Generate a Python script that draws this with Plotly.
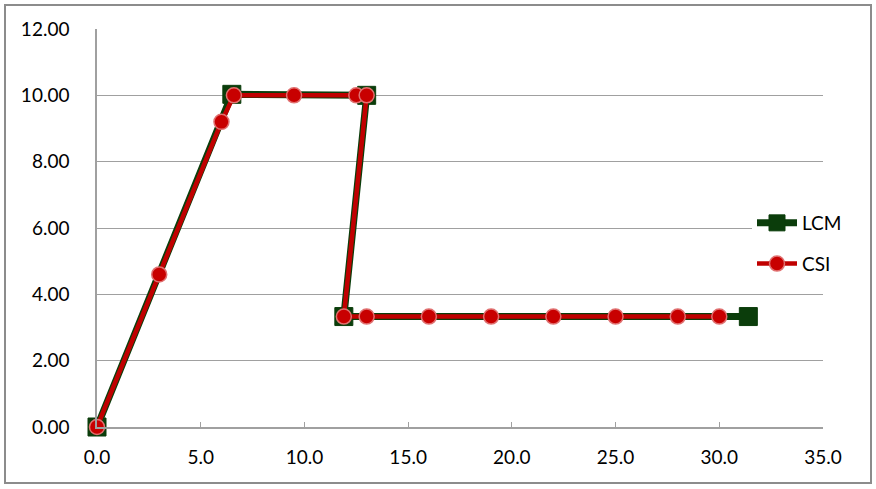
import plotly.graph_objects as go

lcm_x = [0.0, 6.5, 13.0, 11.9, 31.4]
lcm_y = [0.0, 10.03, 10.0, 3.33, 3.33]

csi_x = [0.0, 3.0, 6.0, 6.6, 9.5, 12.5, 13.0, 11.9, 13.0, 16.0, 19.0, 22.0, 25.0, 28.0, 30.0]
csi_y = [0.0, 4.6, 9.2, 10.0, 10.0, 10.0, 10.0, 3.33, 3.33, 3.33, 3.33, 3.33, 3.33, 3.33, 3.33]

W, H = 876, 489
ML, MR, MT, MB = 97, 53, 29, 62
PW, PH = W - ML - MR, H - MT - MB

font = dict(family="Lato, Open Sans, sans-serif", size=19, color="#000000")

fig = go.Figure()
fig.add_trace(go.Scatter(
    x=lcm_x, y=lcm_y, name="LCM", mode="lines+markers", legendgroup="a",
    line=dict(color="#0b3d0b", width=7),
    marker=dict(symbol="square", size=18, color="#0b3d0b", line=dict(color="#0b3d0b", width=1)),
))
fig.add_trace(go.Scatter(
    x=csi_x, y=csi_y, name="CSI", mode="lines+markers", legendgroup="b",
    line=dict(color="#c00000", width=4.5),
    marker=dict(symbol="circle", size=15, color="#c80000", line=dict(color="#e07070", width=1.5)),
))

fig.update_layout(
    width=W, height=H,
    margin=dict(l=ML, r=MR, t=MT, b=MB),
    paper_bgcolor="white", plot_bgcolor="white",
    font=font,
    showlegend=True,
    legend=dict(x=(752 - ML) / PW, y=1 - (204 - MT) / PH, xanchor="left", yanchor="top",
                bgcolor="white", font=font, tracegroupgap=13, itemwidth=40),
    xaxis=dict(range=[0, 35], tickvals=[0, 5, 10, 15, 20, 25, 30, 35], tickformat=".1f",
               showgrid=False, zeroline=False, showline=True, linecolor="#a0a0a0", linewidth=1.5,
               ticks="inside", ticklen=5, tickcolor="#a0a0a0", ticklabelstandoff=12),
    yaxis=dict(range=[0, 12], tickvals=[0, 2, 4, 6, 8, 10, 12], tickformat=".2f",
               showgrid=True, gridcolor="#a0a0a0", gridwidth=1, zeroline=False,
               showline=True, linecolor="#a0a0a0", linewidth=1.5, ticks="", ticklabelstandoff=22),
    shapes=[dict(type="rect", xref="paper", yref="paper",
                 x0=(5 - ML) / PW, x1=(871 - ML) / PW,
                 y0=(H - MB - 483) / PH, y1=(H - MB - 5) / PH,
                 line=dict(color="#8c8c8c", width=2), fillcolor="rgba(0,0,0,0)", layer="below")],
)
fig.update_traces(cliponaxis=False)

fig.write_html("out.html", config={"displayModeBar": False},
               post_script="document.body.style.margin='0px';document.body.style.overflow='hidden';")
